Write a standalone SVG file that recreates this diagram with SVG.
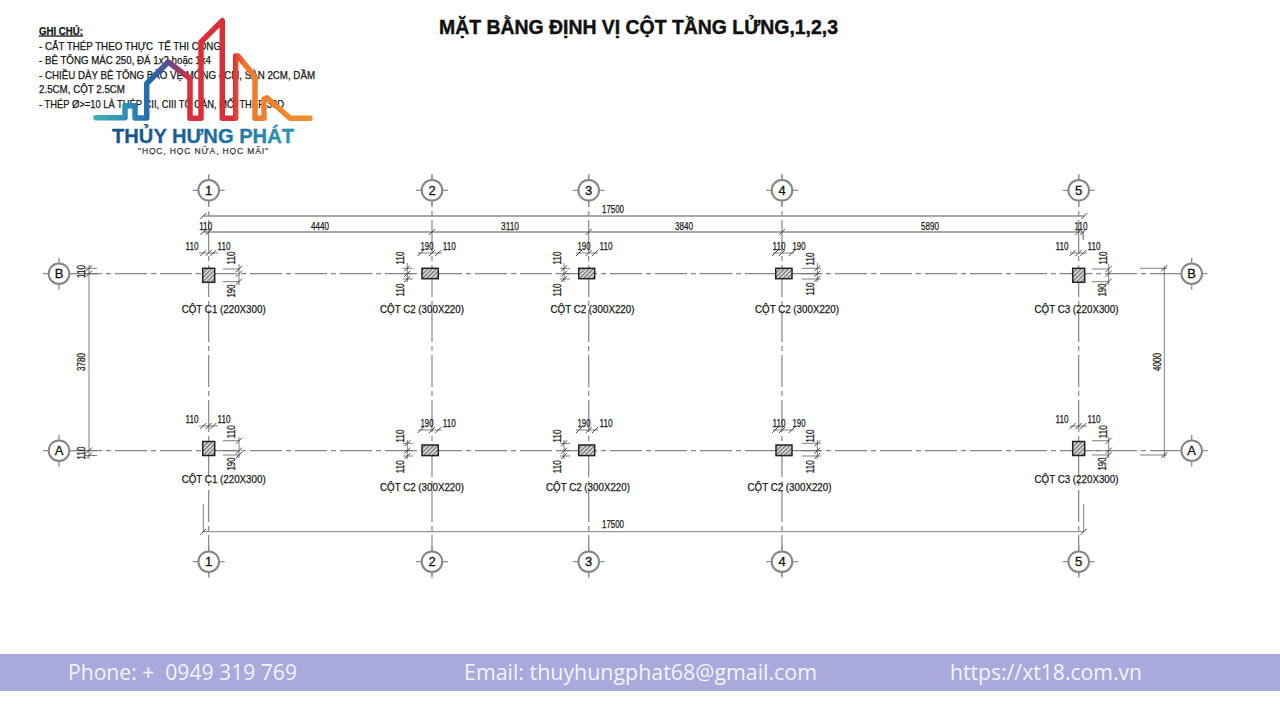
<svg xmlns="http://www.w3.org/2000/svg" xmlns:xlink="http://www.w3.org/1999/xlink" width="1280" height="720" viewBox="0 0 1280 720">
<style>
text{font-family:"Liberation Sans",Arial,sans-serif;fill:#151515}
.note{font-size:10.5px;stroke:#151515;stroke-width:.25}
.n{font-size:11.5px;text-anchor:middle;stroke:#151515;stroke-width:.25}
.c{font-size:11.5px;stroke:#151515;stroke-width:.25}
.axis{fill:none;stroke:#858585;stroke-width:1.2;stroke-dasharray:32 4 5 4}
.dim{fill:none;stroke:#6f6f6f;stroke-width:.9}
.dimb{fill:none;stroke:#8d8d8d;stroke-width:1.4}
.tk{fill:none;stroke:#333;stroke-width:.9}
.ring{fill:#fff;stroke:#858585;stroke-width:2}
.rt{fill:none;stroke:#8f8f8f;stroke-width:1.3}
.b{font-size:13px;text-anchor:middle;fill:#111;stroke:#111;stroke-width:.3}
.col{fill:url(#hatch);stroke:#222;stroke-width:1.5}
.foot{font-family:"Open Sans","Noto Sans",sans-serif;font-size:21.5px;fill:#f3f3fa}
</style>
<defs>
<pattern id="hatch" width="3" height="3" patternUnits="userSpaceOnUse" patternTransform="rotate(-45)"><rect width="3" height="3" fill="#e2e2e2"/><rect width="3" height="1.3" fill="#707070"/></pattern>
<linearGradient id="lg" gradientUnits="userSpaceOnUse" x1="95" y1="0" x2="310" y2="0">
<stop offset="0" stop-color="#43aebb"/><stop offset=".16" stop-color="#2f8bb5"/><stop offset=".26" stop-color="#2267ae"/><stop offset=".34" stop-color="#5b4c90"/><stop offset=".44" stop-color="#d8303c"/><stop offset=".64" stop-color="#d92f38"/><stop offset=".7" stop-color="#ee7a2e"/><stop offset="1" stop-color="#f0902e"/>
</linearGradient>
<linearGradient id="lt" gradientUnits="userSpaceOnUse" x1="112" y1="0" x2="294" y2="0">
<stop offset="0" stop-color="#1c4f7c"/><stop offset=".55" stop-color="#1d6a9e"/><stop offset="1" stop-color="#2c9db5"/>
</linearGradient>
<g id="bub"><path class="rt" d="M-16 0H-10M10 0H16M0-16V-10M0 10V16"/><circle class="ring" r="10.3"/></g>
</defs>
<rect width="1280" height="720" fill="#fff"/>

<text x="439" y="34" font-size="20.5" font-weight="700" textLength="399" lengthAdjust="spacingAndGlyphs" style="fill:#111;stroke:#111;stroke-width:.45">MẶT BẰNG ĐỊNH VỊ CỘT TẦNG LỬNG,1,2,3</text>

<g id="notes">
<text class="note" x="39" y="34.5" font-weight="700" text-decoration="underline" textLength="44" lengthAdjust="spacingAndGlyphs">GHI CHÚ:</text>
<text class="note" x="39" y="49.5" textLength="182" lengthAdjust="spacingAndGlyphs" xml:space="preserve">- CẮT THÉP THEO THỰC  TẾ THI CÔNG</text>
<text class="note" x="39" y="64" textLength="172" lengthAdjust="spacingAndGlyphs">- BÊ TÔNG MÁC 250, ĐÁ 1x2 hoặc 1x4</text>
<text class="note" x="39" y="78.5" textLength="276" lengthAdjust="spacingAndGlyphs">- CHIỀU DÀY BÊ TÔNG BẢO VỆ MÓNG 4CM, SÀN 2CM, DẦM</text>
<text class="note" x="39" y="93" textLength="86" lengthAdjust="spacingAndGlyphs">2.5CM, CỘT 2.5CM</text>
<text class="note" x="39" y="107.5" textLength="245" lengthAdjust="spacingAndGlyphs">- THÉP Ø&gt;=10 LÀ THÉP CII, CIII TÔ CÁN, MỐI THÉP 30D</text>
</g>

<g id="logo">
<path fill="none" stroke="url(#lg)" stroke-width="5.5" stroke-linecap="round" stroke-linejoin="round" d="M96 117.7H125V105.7H135V118H146.7V83.5L168.3 62 190 78.5V118.3H201V42L222.3 20.7V118.3H235.7V56H238L255 76.7V118.3H264V99L267 97.7 290 118.3H310"/>
<text x="112" y="143" font-size="21" font-weight="700" textLength="182" lengthAdjust="spacingAndGlyphs" style="fill:url(#lt);stroke:#1d6a9e;stroke-width:.3">THỦY HƯNG PHÁT</text>
<text x="138" y="153.5" font-size="8.5" textLength="130" lengthAdjust="spacing" style="fill:#333;stroke:#333;stroke-width:.2">"HỌC, HỌC NỮA, HỌC MÃI"</text>
</g>

<g id="connectors">
<g id="axes">
<path class="axis" d="M70 273.7H1176"/>
<path class="axis" d="M70 450.7H1176"/>
<path class="axis" d="M208.7 175V577"/>
<path class="axis" d="M432 175V577"/>
<path class="axis" d="M588.7 175V577"/>
<path class="axis" d="M782 175V577"/>
<path class="axis" d="M1078.7 175V577"/>
</g>
<g id="overall-dims">
<path class="dimb" d="M203.3 216H1084.3M203.3 232H1083.3V240"/>
<path class="dim" d="M203.3 531.7H1083.7M203.3 504V531.7M1083.7 504V531.7"/>
<path class="dim" d="M89 265V459M85 268.3H97M85 273.7H97M85 450.5H97M85 455.5H97"/>
<path class="dim" d="M1164.3 266V458M1140 268.3H1167M1140 455H1167"/>
<path class="tk" d="M200.3 219l6-6M200.3 235l6-6M205.7 235l6-6M429 235l6-6M585.7 235l6-6M779 235l6-6M1075.3 235l6-6M1080.3 235l6-6M1081.3 219l6-6M200.3 534.7l6-6M1080.7 534.7l6-6M86 271.3l6-6M86 276.7l6-6M86 453.5l6-6M86 458.5l6-6M1161.3 271.3l6-6M1161.3 458l6-6"/>
</g>
<g id="column-dims-B">
<path class="dim" d="M199 253H218M417.7 253H441.7M576 253H598M773 253H794M1070 253H1087"/>
<path class="tk" d="M200.3 256l6-6M205.7 256l6-6M210.3 256l6-6M417.7 256l6-6M429 256l6-6M435.3 256l6-6M576 256l6-6M585.7 256l6-6M592 256l6-6M772 256l6-6M779 256l6-6M788.7 256l6-6M1069.7 256l6-6M1075.7 256l6-6M1080.3 256l6-6"/>
<path class="dim" d="M239 264V285M223 269H239M223 281.7H239M407.3 263V282M403 268.3H413M403 273.7H413M403 279H413M564 263V282M560 268.3H570M560 273.7H570M560 279H570M817.3 263V282M801.7 268.3H821M801.7 273.7H821M801.7 279H821M1108.7 264V285M1092 269H1108.7M1092 281.7H1108.7"/>
<path class="tk" d="M236 272l6-6M236 276.7l6-6M236 284.7l6-6M404.3 271.3l6-6M404.3 276.7l6-6M404.3 282l6-6M561 271.3l6-6M561 276.7l6-6M561 282l6-6M814.3 271.3l6-6M814.3 276.7l6-6M814.3 282l6-6M1105.7 272l6-6M1105.7 276.7l6-6M1105.7 284.7l6-6"/>
</g>
<g id="column-dims-A">
<path class="dim" d="M199 426H218M417.7 430H441.7M576 430H598M773 430H794M1070 426H1087"/>
<path class="tk" d="M200.3 429l6-6M205.7 429l6-6M210.3 429l6-6M417.7 433l6-6M429 433l6-6M435.3 433l6-6M576 433l6-6M585.7 433l6-6M592 433l6-6M772 433l6-6M779 433l6-6M788.7 433l6-6M1069.7 429l6-6M1075.7 429l6-6M1080.3 429l6-6"/>
<path class="dim" d="M239 437V458M223 440.7H239M223 450.7H239M223 455H239M407.3 440V459M403 443.3H413M403 450.7H413M403 456H413M564 440V459M560 443.3H570M560 450.7H570M560 456H570M817.3 440V459M801.7 443.3H821M801.7 450.7H821M801.7 456H821M1108.7 437V458M1092 440.7H1108.7M1092 450.7H1108.7M1092 455H1108.7"/>
<path class="tk" d="M236 443.7l6-6M236 453.7l6-6M236 458l6-6M404.3 446.3l6-6M404.3 453.7l6-6M404.3 459l6-6M561 446.3l6-6M561 453.7l6-6M561 459l6-6M814.3 446.3l6-6M814.3 453.7l6-6M814.3 459l6-6M1105.7 443.7l6-6M1105.7 453.7l6-6M1105.7 458l6-6"/>
</g>
<g id="dim-labels">
<text class="n" x="613" y="213" textLength="22" lengthAdjust="spacingAndGlyphs">17500</text>
<text class="n" x="205.7" y="230" textLength="13" lengthAdjust="spacingAndGlyphs">110</text>
<text class="n" x="320" y="230" textLength="18" lengthAdjust="spacingAndGlyphs">4440</text>
<text class="n" x="510" y="230" textLength="18" lengthAdjust="spacingAndGlyphs">3110</text>
<text class="n" x="684" y="230" textLength="18" lengthAdjust="spacingAndGlyphs">3840</text>
<text class="n" x="930" y="230" textLength="18" lengthAdjust="spacingAndGlyphs">5890</text>
<text class="n" x="1081" y="230" textLength="13" lengthAdjust="spacingAndGlyphs">110</text>
<text class="n" x="613" y="528" textLength="22" lengthAdjust="spacingAndGlyphs">17500</text>
<text class="n" transform="translate(85 271.5) rotate(-90)" textLength="13" lengthAdjust="spacingAndGlyphs">110</text>
<text class="n" transform="translate(85 362) rotate(-90)" textLength="18" lengthAdjust="spacingAndGlyphs">3780</text>
<text class="n" transform="translate(85 453) rotate(-90)" textLength="13" lengthAdjust="spacingAndGlyphs">110</text>
<text class="n" transform="translate(1161 362) rotate(-90)" textLength="18" lengthAdjust="spacingAndGlyphs">4000</text>

<text class="n" x="192" y="250" textLength="13" lengthAdjust="spacingAndGlyphs">110</text>
<text class="n" x="224" y="250" textLength="13" lengthAdjust="spacingAndGlyphs">110</text>
<text class="n" x="427" y="250" textLength="13" lengthAdjust="spacingAndGlyphs">190</text>
<text class="n" x="449.3" y="250" textLength="13" lengthAdjust="spacingAndGlyphs">110</text>
<text class="n" x="584" y="250" textLength="13" lengthAdjust="spacingAndGlyphs">190</text>
<text class="n" x="606" y="250" textLength="13" lengthAdjust="spacingAndGlyphs">110</text>
<text class="n" x="779" y="250" textLength="13" lengthAdjust="spacingAndGlyphs">110</text>
<text class="n" x="799" y="250" textLength="13" lengthAdjust="spacingAndGlyphs">190</text>
<text class="n" x="1062" y="250" textLength="13" lengthAdjust="spacingAndGlyphs">110</text>
<text class="n" x="1094" y="250" textLength="13" lengthAdjust="spacingAndGlyphs">110</text>

<text class="n" x="192" y="423" textLength="13" lengthAdjust="spacingAndGlyphs">110</text>
<text class="n" x="224" y="423" textLength="13" lengthAdjust="spacingAndGlyphs">110</text>
<text class="n" x="427" y="427" textLength="13" lengthAdjust="spacingAndGlyphs">190</text>
<text class="n" x="449.3" y="427" textLength="13" lengthAdjust="spacingAndGlyphs">110</text>
<text class="n" x="584" y="427" textLength="13" lengthAdjust="spacingAndGlyphs">190</text>
<text class="n" x="606" y="427" textLength="13" lengthAdjust="spacingAndGlyphs">110</text>
<text class="n" x="779" y="427" textLength="13" lengthAdjust="spacingAndGlyphs">110</text>
<text class="n" x="799" y="427" textLength="13" lengthAdjust="spacingAndGlyphs">190</text>
<text class="n" x="1062" y="423" textLength="13" lengthAdjust="spacingAndGlyphs">110</text>
<text class="n" x="1094" y="423" textLength="13" lengthAdjust="spacingAndGlyphs">110</text>

<text class="n" transform="translate(235 258) rotate(-90)" textLength="13" lengthAdjust="spacingAndGlyphs">110</text>
<text class="n" transform="translate(235 291) rotate(-90)" textLength="13" lengthAdjust="spacingAndGlyphs">190</text>
<text class="n" transform="translate(404 258) rotate(-90)" textLength="13" lengthAdjust="spacingAndGlyphs">110</text>
<text class="n" transform="translate(404 290) rotate(-90)" textLength="13" lengthAdjust="spacingAndGlyphs">110</text>
<text class="n" transform="translate(560.5 258) rotate(-90)" textLength="13" lengthAdjust="spacingAndGlyphs">110</text>
<text class="n" transform="translate(560.5 290) rotate(-90)" textLength="13" lengthAdjust="spacingAndGlyphs">110</text>
<text class="n" transform="translate(813.5 259) rotate(-90)" textLength="13" lengthAdjust="spacingAndGlyphs">110</text>
<text class="n" transform="translate(813.5 289) rotate(-90)" textLength="13" lengthAdjust="spacingAndGlyphs">110</text>
<text class="n" transform="translate(1106.5 258) rotate(-90)" textLength="13" lengthAdjust="spacingAndGlyphs">110</text>
<text class="n" transform="translate(1105.5 290) rotate(-90)" textLength="13" lengthAdjust="spacingAndGlyphs">190</text>

<text class="n" transform="translate(235 431.7) rotate(-90)" textLength="13" lengthAdjust="spacingAndGlyphs">110</text>
<text class="n" transform="translate(235 464) rotate(-90)" textLength="13" lengthAdjust="spacingAndGlyphs">190</text>
<text class="n" transform="translate(404 436) rotate(-90)" textLength="13" lengthAdjust="spacingAndGlyphs">110</text>
<text class="n" transform="translate(404 466.7) rotate(-90)" textLength="13" lengthAdjust="spacingAndGlyphs">110</text>
<text class="n" transform="translate(560.5 436) rotate(-90)" textLength="13" lengthAdjust="spacingAndGlyphs">110</text>
<text class="n" transform="translate(560.5 466.7) rotate(-90)" textLength="13" lengthAdjust="spacingAndGlyphs">110</text>
<text class="n" transform="translate(813.5 436) rotate(-90)" textLength="13" lengthAdjust="spacingAndGlyphs">110</text>
<text class="n" transform="translate(813.5 466.7) rotate(-90)" textLength="13" lengthAdjust="spacingAndGlyphs">110</text>
<text class="n" transform="translate(1106.5 431.7) rotate(-90)" textLength="13" lengthAdjust="spacingAndGlyphs">110</text>
<text class="n" transform="translate(1105.5 464) rotate(-90)" textLength="13" lengthAdjust="spacingAndGlyphs">190</text>
</g>
</g>

<g id="col-B1"><rect class="col" x="202.7" y="268.3" width="12" height="14"/><text class="c" x="181.7" y="313" textLength="84" lengthAdjust="spacingAndGlyphs">CỘT C1 (220X300)</text></g>
<g id="col-B2"><rect class="col" x="422" y="268.3" width="16.3" height="10.4"/><text class="c" x="380" y="313" textLength="84" lengthAdjust="spacingAndGlyphs">CỘT C2 (300X220)</text></g>
<g id="col-B3"><rect class="col" x="578.7" y="268.3" width="16" height="10.4"/><text class="c" x="550.5" y="313" textLength="84" lengthAdjust="spacingAndGlyphs">CỘT C2 (300X220)</text></g>
<g id="col-B4"><rect class="col" x="775.7" y="268.3" width="16.3" height="10.4"/><text class="c" x="755" y="313" textLength="84" lengthAdjust="spacingAndGlyphs">CỘT C2 (300X220)</text></g>
<g id="col-B5"><rect class="col" x="1072.7" y="268.3" width="12" height="14"/><text class="c" x="1034.5" y="313" textLength="84" lengthAdjust="spacingAndGlyphs">CỘT C3 (220X300)</text></g>
<g id="col-A1"><rect class="col" x="202.7" y="441.5" width="12" height="14"/><text class="c" x="181.7" y="482.5" textLength="84" lengthAdjust="spacingAndGlyphs">CỘT C1 (220X300)</text></g>
<g id="col-A2"><rect class="col" x="422" y="445" width="16.3" height="10.6"/><text class="c" x="380" y="490.5" textLength="84" lengthAdjust="spacingAndGlyphs">CỘT C2 (300X220)</text></g>
<g id="col-A3"><rect class="col" x="578.7" y="445" width="16" height="10.6"/><text class="c" x="546" y="490.5" textLength="84" lengthAdjust="spacingAndGlyphs">CỘT C2 (300X220)</text></g>
<g id="col-A4"><rect class="col" x="776" y="445" width="16" height="10.6"/><text class="c" x="747.5" y="490.5" textLength="84" lengthAdjust="spacingAndGlyphs">CỘT C2 (300X220)</text></g>
<g id="col-A5"><rect class="col" x="1072.7" y="441.5" width="12" height="14"/><text class="c" x="1034.5" y="483" textLength="84" lengthAdjust="spacingAndGlyphs">CỘT C3 (220X300)</text></g>

<g id="grid-1-top"><use xlink:href="#bub" href="#bub" x="208.7" y="190.3"/><text class="b" x="208.7" y="195">1</text></g>
<g id="grid-2-top"><use xlink:href="#bub" href="#bub" x="432" y="190.3"/><text class="b" x="432" y="195">2</text></g>
<g id="grid-3-top"><use xlink:href="#bub" href="#bub" x="588.7" y="190.3"/><text class="b" x="588.7" y="195">3</text></g>
<g id="grid-4-top"><use xlink:href="#bub" href="#bub" x="782" y="190.3"/><text class="b" x="782" y="195">4</text></g>
<g id="grid-5-top"><use xlink:href="#bub" href="#bub" x="1078.7" y="190.3"/><text class="b" x="1078.7" y="195">5</text></g>
<g id="grid-1-bottom"><use xlink:href="#bub" href="#bub" x="208.7" y="561.7"/><text class="b" x="208.7" y="566.4">1</text></g>
<g id="grid-2-bottom"><use xlink:href="#bub" href="#bub" x="432" y="561.7"/><text class="b" x="432" y="566.4">2</text></g>
<g id="grid-3-bottom"><use xlink:href="#bub" href="#bub" x="588.7" y="561.7"/><text class="b" x="588.7" y="566.4">3</text></g>
<g id="grid-4-bottom"><use xlink:href="#bub" href="#bub" x="782" y="561.7"/><text class="b" x="782" y="566.4">4</text></g>
<g id="grid-5-bottom"><use xlink:href="#bub" href="#bub" x="1078.7" y="561.7"/><text class="b" x="1078.7" y="566.4">5</text></g>
<g id="grid-B-left"><use xlink:href="#bub" href="#bub" x="59" y="273.7"/><text class="b" x="59" y="278.4">B</text></g>
<g id="grid-A-left"><use xlink:href="#bub" href="#bub" x="59" y="450.7"/><text class="b" x="59" y="455.4">A</text></g>
<g id="grid-B-right"><use xlink:href="#bub" href="#bub" x="1191.7" y="273.7"/><text class="b" x="1191.7" y="278.4">B</text></g>
<g id="grid-A-right"><use xlink:href="#bub" href="#bub" x="1191.7" y="450.7"/><text class="b" x="1191.7" y="455.4">A</text></g>

<g id="footer">
<rect y="654" width="1280" height="37" fill="#a9aadb"/>
<text class="foot" x="68" y="680" textLength="229" lengthAdjust="spacingAndGlyphs" xml:space="preserve">Phone: +  0949 319 769</text>
<text class="foot" x="464" y="680" textLength="353" lengthAdjust="spacingAndGlyphs">Email: thuyhungphat68@gmail.com</text>
<text class="foot" x="950" y="680" textLength="192" lengthAdjust="spacingAndGlyphs">https://xt18.com.vn</text>
</g>
</svg>
